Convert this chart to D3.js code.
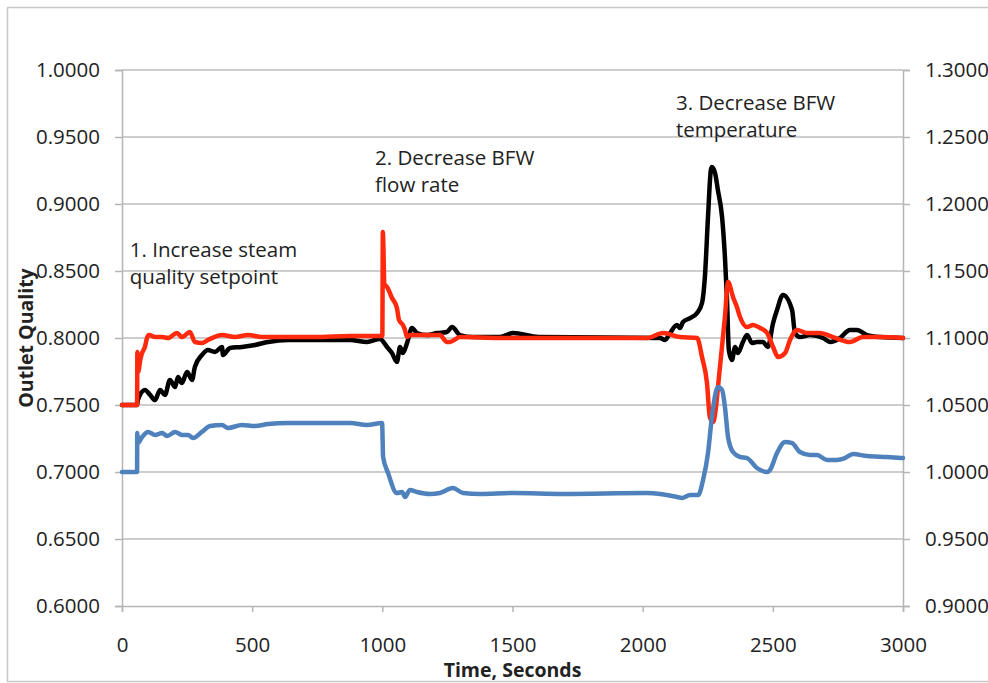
<!DOCTYPE html>
<html lang="en">
  <head>
    <meta charset="UTF-8"/>
    <title>Outlet quality response</title>
    <script src="https://d3js.org/d3.v7.min.js" charset="utf-8"></script>
    <style>
      body { margin: 0; background: #fff; }
      text { font-family: "Open Sans", Lato, sans-serif; fill: #222; }
    </style>
  </head>
  <body>
    <div id="chart"></div>
    <script>
    var canvaswidth = 988;
    var canvasheight = 683;

    // plot box, in pixels
    var plotLeft = 122, plotRight = 903, plotTop = 70, plotBottom = 606;

    // black trace: time (s), outlet quality (left axis)
    var blackTime = [0, 58, 61, 88, 108, 127, 146, 165, 184, 204, 215, 230, 250, 269, 280, 307, 330, 357, 384, 388, 415, 461, 511, 561, 638, 741, 876, 941, 991, 1018, 1037, 1056, 1068, 1079, 1095, 1114, 1133, 1172, 1210, 1248, 1268, 1298, 1348, 1452, 1502, 1600, 2067, 2086, 2105, 2132, 2143, 2155, 2182, 2209, 2228, 2239, 2251, 2262, 2266, 2278, 2289, 2305, 2316, 2324, 2331, 2343, 2355, 2366, 2385, 2401, 2420, 2439, 2462, 2481, 2501, 2516, 2539, 2574, 2585, 2604, 2643, 2693, 2720, 2758, 2796, 2823, 2862, 2912, 3000];
    var blackValue = [0.75, 0.75, 0.7537, 0.7612, 0.7575, 0.7537, 0.7612, 0.7575, 0.7687, 0.7634, 0.7709, 0.7664, 0.7746, 0.7687, 0.7784, 0.7873, 0.7910, 0.7896, 0.7933, 0.7873, 0.7925, 0.7933, 0.7948, 0.7970, 0.7985, 0.7985, 0.7985, 0.7970, 0.7993, 0.7933, 0.7888, 0.7821, 0.7933, 0.7888, 0.7963, 0.8075, 0.8037, 0.8022, 0.8037, 0.8045, 0.8082, 0.8022, 0.8007, 0.8007, 0.8037, 0.8007, 0.8000, 0.7985, 0.8037, 0.8097, 0.8075, 0.8119, 0.8149, 0.8187, 0.8261, 0.8455, 0.8903, 0.9254, 0.9276, 0.9231, 0.9104, 0.8903, 0.8604, 0.8284, 0.7910, 0.7836, 0.7933, 0.7888, 0.7970, 0.8022, 0.7963, 0.7970, 0.7970, 0.7933, 0.8112, 0.8209, 0.8321, 0.8209, 0.8037, 0.8007, 0.8022, 0.8000, 0.7970, 0.8000, 0.8060, 0.8060, 0.8022, 0.8007, 0.8000];

    // red trace: time (s), outlet quality (left axis)
    var redTime = [0, 58, 59, 62, 70, 77, 88, 96, 104, 127, 154, 177, 211, 230, 261, 280, 307, 330, 384, 434, 484, 538, 615, 741, 876, 991, 1000, 1002, 1008, 1018, 1037, 1056, 1064, 1079, 1087, 1095, 1106, 1221, 1248, 1260, 1298, 1452, 2017, 2078, 2143, 2209, 2228, 2247, 2258, 2270, 2297, 2316, 2328, 2347, 2362, 2374, 2401, 2424, 2451, 2478, 2501, 2520, 2547, 2566, 2593, 2631, 2681, 2731, 2796, 2846, 2912, 3000];
    var redValue = [0.75, 0.75, 0.7896, 0.7746, 0.7836, 0.7888, 0.7933, 0.8000, 0.8022, 0.8007, 0.8007, 0.8000, 0.8037, 0.8007, 0.8045, 0.7970, 0.7963, 0.7985, 0.8022, 0.8007, 0.8022, 0.8007, 0.8007, 0.8007, 0.8015, 0.8015, 0.8015, 0.8791, 0.8400, 0.8381, 0.8299, 0.8224, 0.8134, 0.8097, 0.8060, 0.8007, 0.8022, 0.8022, 0.7970, 0.7970, 0.8007, 0.8000, 0.8000, 0.8037, 0.8007, 0.8000, 0.7858, 0.7664, 0.7410, 0.7373, 0.7784, 0.8157, 0.8418, 0.8306, 0.8231, 0.8157, 0.8082, 0.8097, 0.8075, 0.8037, 0.7933, 0.7858, 0.7888, 0.7985, 0.8060, 0.8037, 0.8037, 0.8007, 0.7970, 0.8007, 0.8007, 0.8000];

    // blue trace: time (s), value on the right axis
    var blueTime = [0, 58, 58.5, 61, 77, 100, 127, 154, 173, 204, 230, 254, 273, 307, 338, 384, 407, 461, 511, 561, 638, 741, 876, 941, 999, 1003, 1022, 1056, 1076, 1087, 1106, 1133, 1183, 1221, 1271, 1310, 1375, 1502, 1694, 2017, 2067, 2132, 2151, 2182, 2213, 2232, 2251, 2266, 2289, 2305, 2316, 2328, 2347, 2374, 2401, 2439, 2478, 2489, 2516, 2547, 2574, 2604, 2643, 2670, 2708, 2746, 2777, 2808, 2862, 2939, 3000];
    var blueValue = [1.0, 1.0, 1.0291, 1.0216, 1.0261, 1.0299, 1.0276, 1.0291, 1.0269, 1.0299, 1.0276, 1.0276, 1.0254, 1.0299, 1.0343, 1.0351, 1.0328, 1.0351, 1.0343, 1.0358, 1.0366, 1.0366, 1.0366, 1.0351, 1.0366, 1.0112, 0.9993, 0.9843, 0.9851, 0.9813, 0.9866, 0.9851, 0.9836, 0.9843, 0.9881, 0.9843, 0.9836, 0.9843, 0.9836, 0.9843, 0.9836, 0.9813, 0.9806, 0.9828, 0.9828, 0.9940, 1.0142, 1.0410, 1.0634, 1.0612, 1.0485, 1.0261, 1.0149, 1.0112, 1.0104, 1.0030, 1.0000, 1.0015, 1.0142, 1.0224, 1.0216, 1.0149, 1.0127, 1.0127, 1.0090, 1.0090, 1.0104, 1.0134, 1.0119, 1.0112, 1.0104];

    var xTicks = [0, 500, 1000, 1500, 2000, 2500, 3000];
    var leftTicks = [0.60, 0.65, 0.70, 0.75, 0.80, 0.85, 0.90, 0.95, 1.00];
    var rightTicks = [0.90, 0.95, 1.00, 1.05, 1.10, 1.15, 1.20, 1.25, 1.30];

    var notes = [
      {t: 30, v: 0.8604, lines: ["1. Increase steam", "quality setpoint"]},
      {t: 972, v: 0.9290, lines: ["2. Decrease BFW", "flow rate"]},
      {t: 2128, v: 0.9701, lines: ["3. Decrease BFW", "temperature"]}
    ];

    var x = d3.scaleLinear().domain([0, 3000]).range([plotLeft, plotRight]);
    var yL = d3.scaleLinear().domain([0.6, 1.0]).range([plotBottom, plotTop]);
    var yR = d3.scaleLinear().domain([0.9, 1.3]).range([plotBottom, plotTop]);

    var svg = d3.select('#chart').append('svg')
      .attr('width', canvaswidth)
      .attr('height', canvasheight);

    // outer chart frame
    svg.append('rect')
      .attr('x', 7.5).attr('y', 7.5)
      .attr('width', 1000).attr('height', 674)
      .attr('fill', 'none')
      .attr('stroke', '#c8c8c8')
      .attr('stroke-width', 1.5);

    // horizontal gridlines
    svg.append('g').selectAll('line')
      .data(leftTicks.slice(1))
      .enter().append('line')
      .attr('x1', plotLeft).attr('x2', plotRight)
      .attr('y1', function(d){ return yL(d); })
      .attr('y2', function(d){ return yL(d); })
      .attr('stroke', '#bdbdbd')
      .attr('stroke-width', 1.3);

    var fmt = d3.format('.4f');

    var gLeft = svg.append('g')
      .attr('transform', 'translate(' + plotLeft + ',0)')
      .call(d3.axisLeft(yL).tickValues(leftTicks).tickFormat(fmt).tickSize(7).tickPadding(15));
    var gRight = svg.append('g')
      .attr('transform', 'translate(' + plotRight + ',0)')
      .call(d3.axisRight(yR).tickValues(rightTicks).tickFormat(fmt).tickSize(7).tickPadding(15));
    var gBottom = svg.append('g')
      .attr('transform', 'translate(0,' + plotBottom + ')')
      .call(d3.axisBottom(x).tickValues(xTicks).tickFormat(d3.format('d')).tickSize(6).tickPadding(25));

    [gLeft, gRight, gBottom].forEach(function(g){
      g.select('.domain').attr('stroke', '#b5b5b5').attr('stroke-width', 1.5);
      g.selectAll('.tick line').attr('stroke', '#b5b5b5').attr('stroke-width', 1.5);
      g.selectAll('.tick text').style('font-family', '"Open Sans", sans-serif').style('font-size', '20.5px').attr('fill', '#222');
    });

    // series lines
    function drawSeries(times, values, yScale, color){
      var pts = times.map(function(t, i){ return [t, values[i]]; });
      var line = d3.line()
        .x(function(d){ return x(d[0]); })
        .y(function(d){ return yScale(d[1]); })
        .curve(d3.curveMonotoneX);
      svg.append('path')
        .datum(pts)
        .attr('d', line)
        .attr('fill', 'none')
        .attr('stroke', color)
        .attr('stroke-width', 4.5)
        .attr('stroke-linejoin', 'round')
        .attr('stroke-linecap', 'round');
    }
    drawSeries(blackTime, blackValue, yL, '#000000');
    drawSeries(redTime, redValue, yL, '#ff2a0d');
    drawSeries(blueTime, blueValue, yR, '#4f81bd');

    // annotations
    notes.forEach(function(n){
      var t = svg.append('text')
        .attr('x', x(n.t)).attr('y', yL(n.v))
        .style('font-size', '20.5px');
      n.lines.forEach(function(s, i){
        t.append('tspan').attr('x', x(n.t)).attr('dy', i == 0 ? 0 : 27).text(s);
      });
    });

    // axis titles
    svg.append('text')
      .attr('x', (plotLeft + plotRight) / 2).attr('y', 677)
      .attr('text-anchor', 'middle')
      .style('font-size', '19.5px').style('font-weight', 'bold')
      .text('Time, Seconds');
    svg.append('text')
      .attr('transform', 'translate(33,' + ((plotTop + plotBottom) / 2) + ') rotate(-90)')
      .attr('text-anchor', 'middle')
      .style('font-size', '19.5px').style('font-weight', 'bold')
      .text('Outlet Quality');
    </script>
  </body>
</html>
